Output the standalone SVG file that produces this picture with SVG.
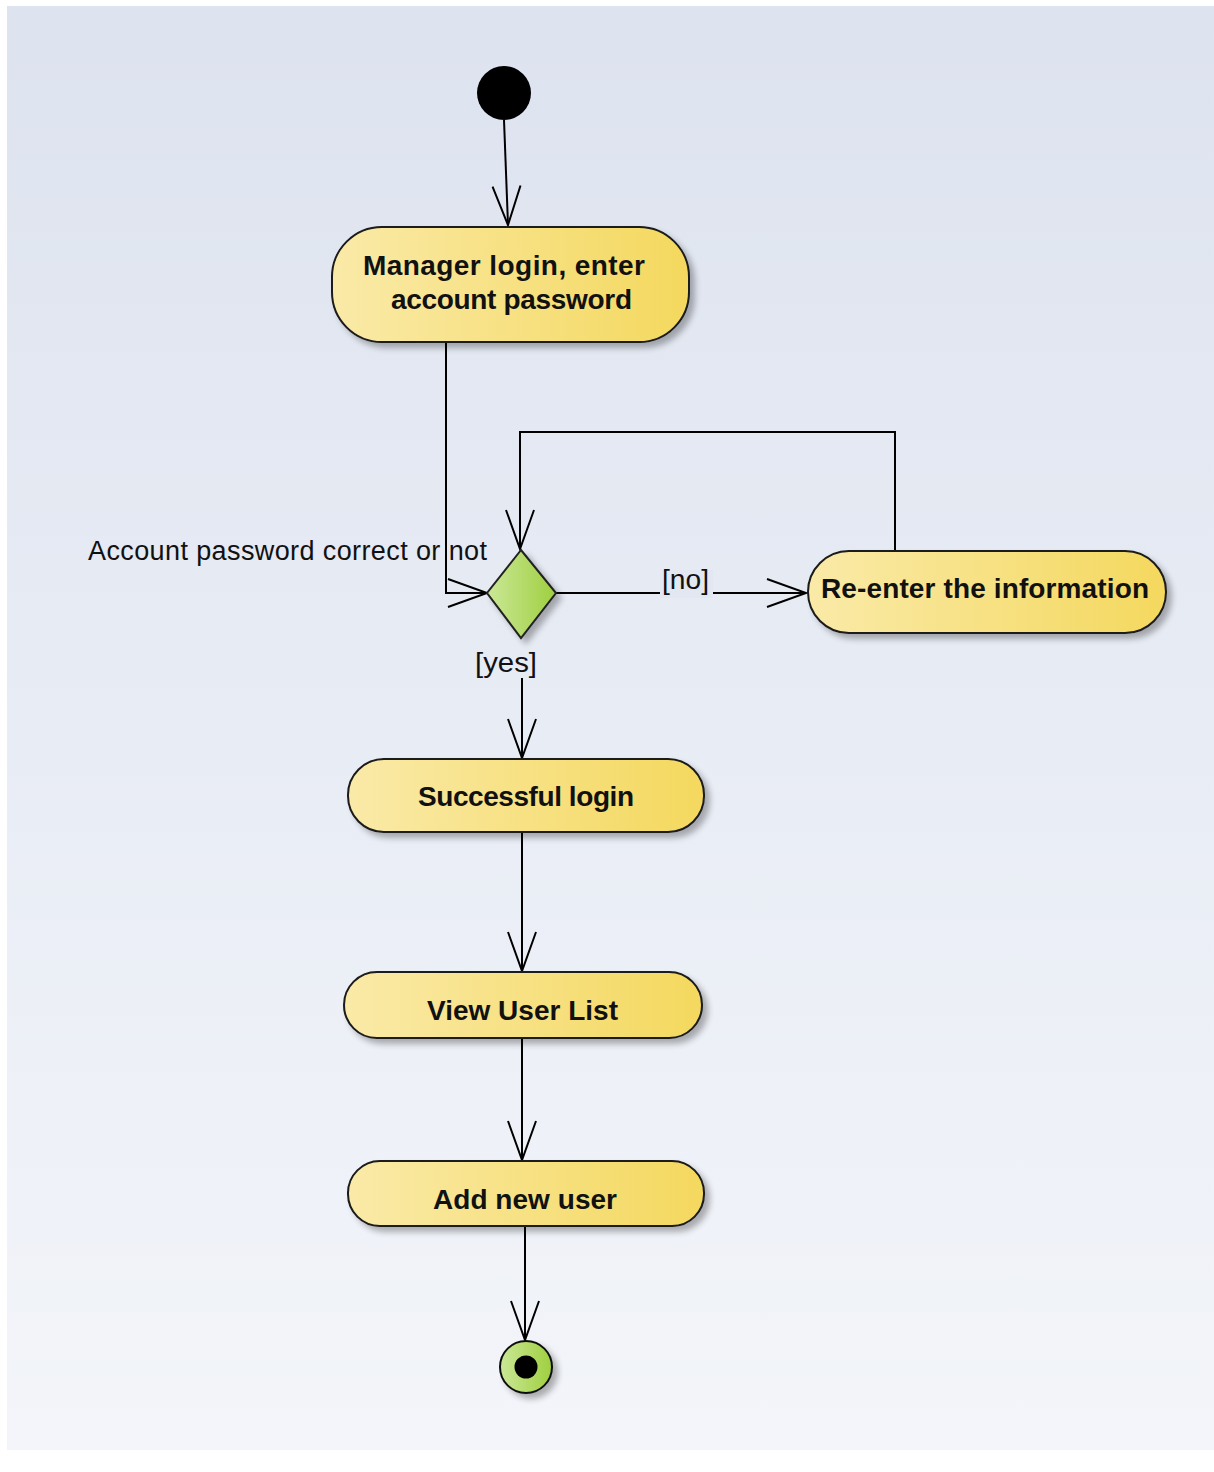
<svg xmlns="http://www.w3.org/2000/svg" width="1214" height="1472" viewBox="0 0 1214 1472">
<defs>
<linearGradient id="bg" x1="0" y1="0" x2="0" y2="1">
<stop offset="0" stop-color="#dde3ef"/>
<stop offset="1" stop-color="#f3f5fa"/>
</linearGradient>
<linearGradient id="act" x1="0" y1="0" x2="1" y2="0">
<stop offset="0" stop-color="#faeaa8"/>
<stop offset="1" stop-color="#f4d85e"/>
</linearGradient>
<linearGradient id="grn" x1="0" y1="0" x2="1" y2="0">
<stop offset="0" stop-color="#cbe897"/>
<stop offset="1" stop-color="#9fcf40"/>
</linearGradient>
<filter id="sh" x="-10%" y="-10%" width="130%" height="140%">
<feGaussianBlur in="SourceAlpha" stdDeviation="3"/>
<feOffset dx="5" dy="5" result="o"/>
<feComponentTransfer><feFuncA type="linear" slope="0.3"/></feComponentTransfer>
<feMerge><feMergeNode/><feMergeNode in="SourceGraphic"/></feMerge>
</filter>
<marker id="arr" markerUnits="userSpaceOnUse" viewBox="-42 -17 44 34" markerWidth="44" markerHeight="34" refX="0" refY="0" orient="auto" overflow="visible">
<path d="M-39,-14 L0,0 L-39,14" fill="none" stroke="#000" stroke-width="2"/>
</marker>
<style>
.act{fill:url(#act);stroke:#1a1a1a;stroke-width:2;filter:url(#sh)}
.t{font-family:"Liberation Sans",Arial,sans-serif;font-weight:bold;font-size:28px;fill:#111;text-anchor:middle}
.l{font-family:"Liberation Sans",Arial,sans-serif;font-size:27px;fill:#111}
.c{fill:none;stroke:#000;stroke-width:2}
</style>
</defs>
<rect x="0" y="0" width="1214" height="1472" fill="#fff"/>
<rect x="7" y="6" width="1207" height="1444" fill="url(#bg)"/>

<g id="connectors">
<path class="c" d="M504,120 L508,225" marker-end="url(#arr)"/>
<path class="c" d="M446,342 L446,593 L487,593" marker-end="url(#arr)"/>
<path class="c" d="M895,550 L895,432 L520,432 L520,549" marker-end="url(#arr)"/>
<path class="c" d="M556,593 L806,593" marker-end="url(#arr)"/>
<rect x="660" y="570" width="53" height="28" fill="#e2e7f1"/>
<text class="l" x="662" y="589" textLength="47" lengthAdjust="spacingAndGlyphs">[no]</text>
<path class="c" d="M522,678 L522,758" marker-end="url(#arr)"/>
<text class="l" x="475" y="672" textLength="62" lengthAdjust="spacingAndGlyphs">[yes]</text>
<path class="c" d="M522,832 L522,971" marker-end="url(#arr)"/>
<path class="c" d="M522,1038 L522,1160" marker-end="url(#arr)"/>
<path class="c" d="M525,1226 L525,1340" marker-end="url(#arr)"/>
</g>

<g id="initial">
<circle cx="504" cy="93" r="27" fill="#000"/>
</g>

<g id="node-login">
<rect class="act" x="332" y="227" width="357" height="115" rx="50"/>
<text class="t" x="504" y="275" textLength="282">Manager login, enter</text>
<text class="t" x="511.5" y="309" textLength="241">account password</text>
</g>

<g id="decision">
<polygon points="521,550 556,593 521,638 487,593" fill="url(#grn)" stroke="#222" stroke-width="2" filter="url(#sh)"/>
<text class="l" x="88" y="560" textLength="399">Account password correct or not</text>
</g>

<g id="node-reenter">
<rect class="act" x="808" y="551" width="358" height="82" rx="41"/>
<text class="t" x="985" y="598" textLength="328">Re-enter the information</text>
</g>

<g id="node-success">
<rect class="act" x="348" y="759" width="356" height="73" rx="36"/>
<text class="t" x="526" y="806" textLength="216">Successful login</text>
</g>

<g id="node-view">
<rect class="act" x="344" y="972" width="358" height="66" rx="33"/>
<text class="t" x="522.5" y="1020" textLength="191">View User List</text>
</g>

<g id="node-add">
<rect class="act" x="348" y="1161" width="356" height="65" rx="32"/>
<text class="t" x="525" y="1209" textLength="184">Add new user</text>
</g>

<g id="final">
<circle cx="526" cy="1367" r="26" fill="url(#grn)" stroke="#111" stroke-width="2" filter="url(#sh)"/>
<circle cx="526" cy="1367" r="11.5" fill="#000"/>
</g>
</svg>
